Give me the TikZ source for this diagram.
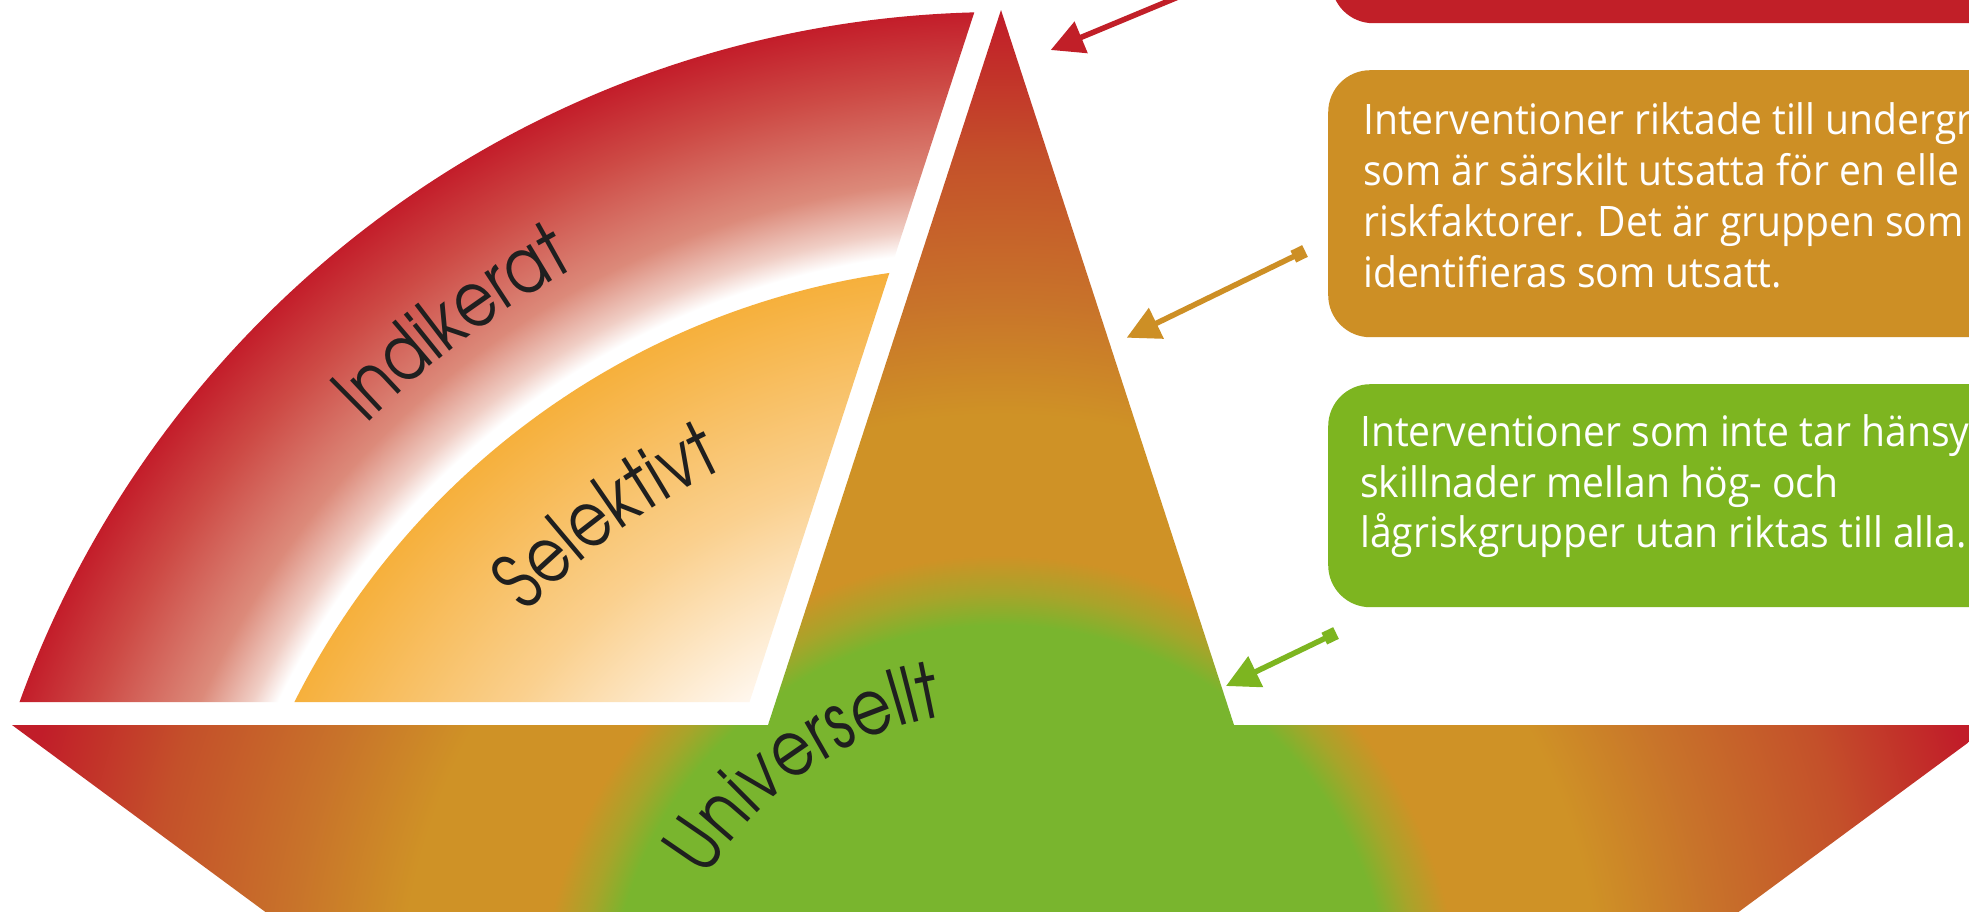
\documentclass[tikz,border=0pt]{standalone}
\usepackage{fontspec}
\newfontfamily\boxfont{Open Sans}[FakeStretch=0.93]
\newfontfamily\labelfont{texgyreadventor-regular.otf}[FakeStretch=0.81]
\usetikzlibrary{arrows.meta,decorations.text}
\definecolor{boxred}{HTML}{C11F28}
\definecolor{boxorange}{HTML}{CD8F25}
\definecolor{boxgreen}{HTML}{7DB520}
\definecolor{bandred}{HTML}{C31D2A}
\definecolor{bandA}{HTML}{F0CEC5}
\definecolor{bandB}{HTML}{DC8A7A}
\definecolor{bandC}{HTML}{CD4A45}
\definecolor{orA}{HTML}{FFF7EE}
\definecolor{orB}{HTML}{FAD08E}
\definecolor{orC}{HTML}{F6B03C}
\definecolor{gGreen}{HTML}{79B52E}
\definecolor{gOlive}{HTML}{A8A42A}
\definecolor{gGold}{HTML}{CF9226}
\definecolor{gRust}{HTML}{C8732A}
\definecolor{gRed}{HTML}{C4502A}
\definecolor{gDeep}{HTML}{C11D29}
\pgfdeclareradialshading{redband}{\pgfpoint{0bp}{0bp}}{color(0bp)=(white); color(18.32bp)=(white); color(18.86bp)=(bandA); color(19.93bp)=(bandB); color(22.11bp)=(bandC); color(23.73bp)=(bandred); color(50bp)=(bandred)}
\pgfdeclareradialshading{orangefill}{\pgfpoint{0bp}{0bp}}{color(0bp)=(orA); color(9.89bp)=(orA); color(13.64bp)=(orB); color(17.98bp)=(orC); color(50bp)=(orC)}
\pgfdeclareradialshading{bigfill}{\pgfpoint{0bp}{0bp}}{color(0bp)=(gGreen); color(8.86bp)=(gGreen); color(9.59bp)=(gOlive); color(10.45bp)=(gGold); color(13.64bp)=(gGold); color(16.25bp)=(gRust); color(19.55bp)=(gRed); color(22.7bp)=(gDeep); color(50bp)=(gDeep)}
\tikzset{
  infobox/.style={rounded corners=42pt, minimum width=800pt, anchor=north west, inner sep=0pt, draw=none},
  boxline/.style={anchor=base west, inner sep=0pt, text=white, font=\boxfont\fontsize{42}{51}\selectfont},
  arclabel/.style={decorate, decoration={text along path, text align=left, text color=black!88, text={|\labelfont\fontsize{77}{77}\selectfont|#1}}},
  conn/.style={line width=5.5pt},
  bothtips/.style={{Square[length=13pt,width=13pt]}-{Triangle[length=33pt,width=33pt]}}
}
\begin{document}
\begin{tikzpicture}[x=1pt,y=1pt]
\useasboundingbox (0,0) rectangle (1969,-911);
\clip (0,0) rectangle (1969,-911);
\fill[white] (0,0) rectangle (1969,-911);
\coordinate (O) at (1002,-1056);
\coordinate (G) at (1000,-1015);
% pyramid: triangle and trapezoid
\begin{scope}
\clip (12,-725) -- (768,-725) -- (1001,-10) -- (1234,-725) -- (1992,-725) -- (1687,-950) -- (317,-950) -- cycle;
\shade[shading=bigfill] (G) circle (1100);
\end{scope}
% outer band
\begin{scope}
\clip (O) circle (1044);
\clip (-100,-702) -- (749.5,-702) -- (994.6,50) -- (-100,50) -- cycle;
\shade[shading=redband] (O) circle (1100);
\end{scope}
% inner sector
\begin{scope}
\clip (O) circle (791);
\clip (-100,-702) -- (749.5,-702) -- (994.6,50) -- (-100,50) -- cycle;
\shade[shading=orangefill] (O) circle (1100);
\end{scope}
% curved labels
\path[arclabel=Indikerat] (O) ++(135.2:896) arc (135.2:100:896);
\path[arclabel=Selektivt] (O) ++(137:650) arc (137:95:650);
\path[arclabel=Universellt] (O) ++(149:345) arc (149:70:345);
% boxes
\node[infobox, fill=boxred, minimum height=240pt] (redbox) at (1331,217) {};
\node[infobox, fill=boxorange, minimum height=267pt] (orangebox) at (1328,-70) {};
\node[infobox, fill=boxgreen, minimum height=223pt] (greenbox) at (1328,-384) {};
\node[boxline] (o1) at (1363,-134) {Interventioner riktade till undergr};
\node[boxline] (o2) at (1363,-185) {som är särskilt utsatta för en elle};
\node[boxline] (o3) at (1363,-236) {riskfaktorer. Det är gruppen som};
\node[boxline] (o4) at (1363,-287) {identifieras som utsatt.};
\node[boxline] (g1) at (1360,-446) {Interventioner som inte tar hänsy};
\node[boxline] (g2) at (1360,-497) {skillnader mellan hög- och};
\node[boxline] (g3) at (1360,-547) {lågriskgrupper utan riktas till alla.};
% arrows
\coordinate (rtail) at (1207,15);
\coordinate (rtip) at (1050.7,-50);
\coordinate (otail) at (1305,-251);
\coordinate (otip) at (1126.7,-337.7);
\coordinate (gtail) at (1336,-633);
\coordinate (gtip) at (1226,-686);
\draw[conn, boxred, -{Triangle[length=33pt,width=33pt]}] (rtail) -- (rtip);
\draw[conn, boxorange, bothtips] (otail) -- (otip);
\draw[conn, boxgreen, bothtips] (gtail) -- (gtip);
\end{tikzpicture}
\end{document}
